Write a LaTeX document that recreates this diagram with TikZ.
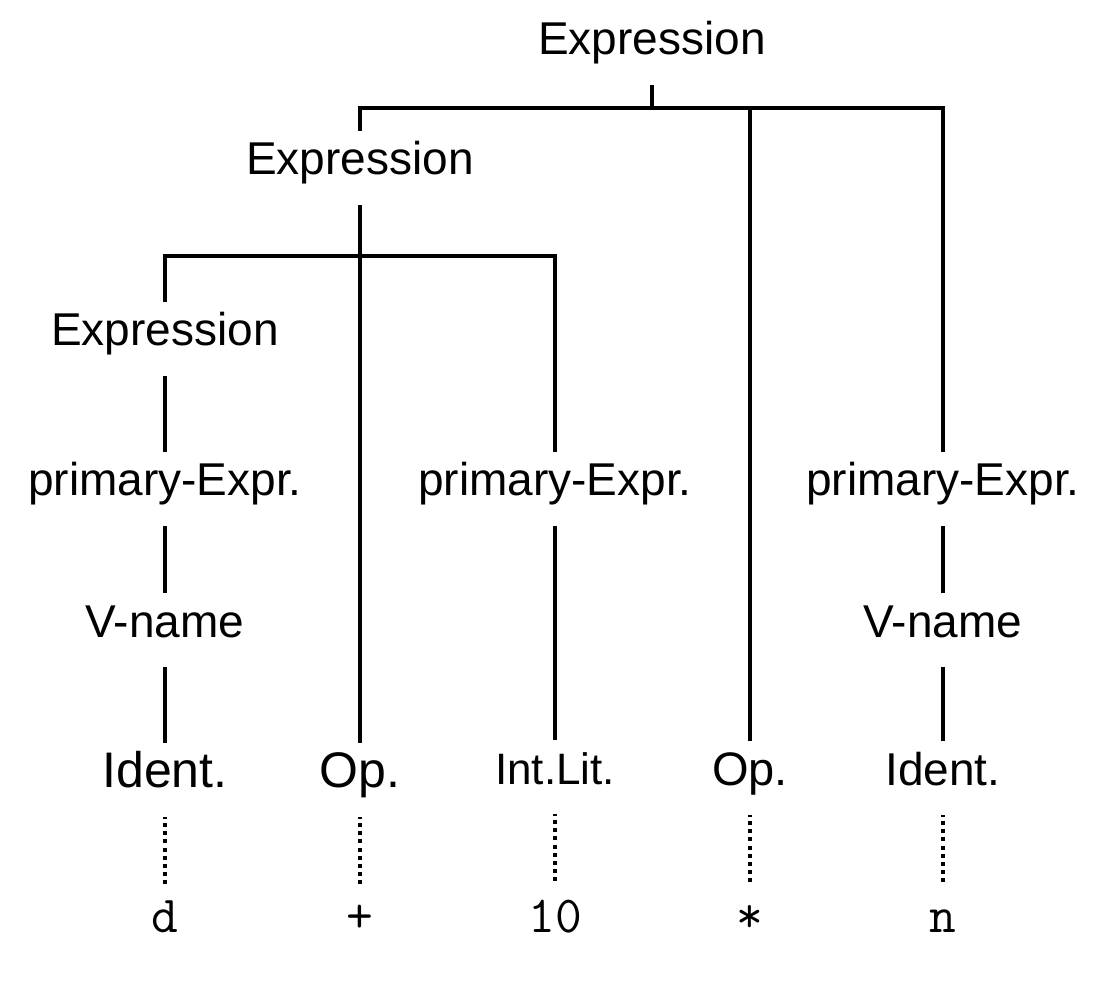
\documentclass[tikz,border=0pt]{standalone}
\usepackage{fontspec}
\setmainfont{Liberation Sans}
\begin{document}
\begin{tikzpicture}[x=1pt,y=-1pt,
  cat/.style={anchor=base, inner xsep=0pt, inner ysep=10pt, text height=34pt, text depth=20pt, font=\fontsize{46}{50}\selectfont},
  tok/.style={anchor=base, inner xsep=0pt, inner ysep=15pt, text height=32pt, text depth=0pt, font=\ttfamily\fontsize{52}{56}\selectfont},
  branch/.style={line width=3.4pt},
  dotline/.style={line width=3.4pt, dash pattern=on 4pt off 4.2pt, dash phase=2.5pt}]
\useasboundingbox[fill=white] (0,0) rectangle (1096,1008);
% categories
\node[cat] (e1) at (652,55) {Expression};
\node[cat] (e2) at (360,175) {Expression};
\node[cat] (e3) at (165,346) {Expression};
\node[cat] (p1) at (165,496) {primary-Expr.};
\node[cat] (p2) at (555,496) {primary-Expr.};
\node[cat] (p3) at (943,496) {primary-Expr.};
\node[cat] (v1) at (165,637) {V-name};
\node[cat] (v2) at (943,637) {V-name};
\node[cat, font=\fontsize{50}{54}\selectfont] (i1) at (165,787) {Ident.};
\node[cat, font=\fontsize{50}{54}\selectfont] (o1) at (360,787) {Op.};
\node[cat, font=\fontsize{44}{48}\selectfont] (l1) at (555,784) {Int.Lit.};
\node[cat, font=\fontsize{47}{51}\selectfont] (o2) at (750,785) {Op.};
\node[cat, font=\fontsize{46}{50}\selectfont] (i2) at (943,785) {Ident.};
% tokens
\node[tok] (t1) at (165,932) {d};
\node[tok] (t2) at (360,932) {+};
\node[tok] (t3) at (555,932) {10};
\node[tok] (t4) at (750,932) {*};
\node[tok] (t5) at (943,932) {n};
% bar coordinates
\coordinate (b1) at (652,108);
\coordinate (b2) at (360,256);
% branches
\draw[branch] (e1) -- (b1);
\draw[branch] (e2) |- (b1) -| (p3);
\draw[branch] (o2) -- (o2 |- b1);
\draw[branch] (e2) -- (o1);
\draw[branch] (e3) |- (b2) -| (p2);
\draw[branch] (e3) -- (p1);
\draw[branch] (p1) -- (v1);
\draw[branch] (v1) -- (i1);
\draw[branch] (p2) -- (l1);
\draw[branch] (p3) -- (v2);
\draw[branch] (v2) -- (i2);
% dotted token links
\draw[dotline] (i1) -- (t1);
\draw[dotline] (o1) -- (t2);
\draw[dotline] (l1) -- (t3);
\draw[dotline] (o2) -- (t4);
\draw[dotline] (i2) -- (t5);
\end{tikzpicture}
\end{document}
